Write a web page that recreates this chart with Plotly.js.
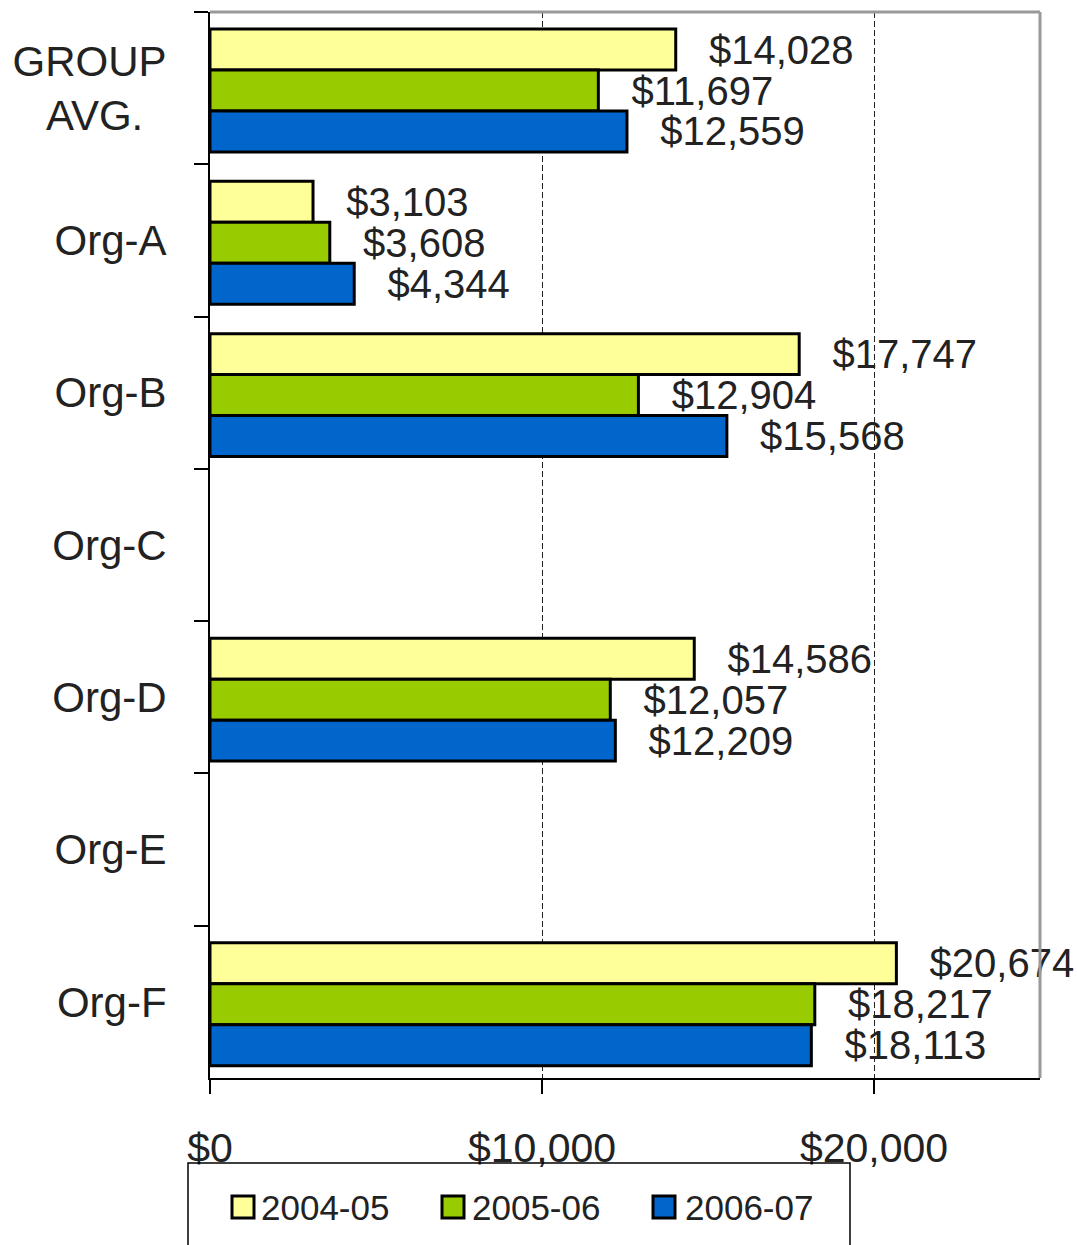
<!DOCTYPE html>
<html>
<head>
<meta charset="utf-8">
<script src="https://cdn.plot.ly/plotly-3.0.1.min.js"></script>
<style>html,body{margin:0;padding:0;background:#fff;}#chart{width:1077px;height:1245px;}</style>
</head>
<body>
<div id="chart"></div>
<script>
// ---- data ----
const categories = ["GROUP<br>AVG.\u00a0\u00a0", "Org-A", "Org-B", "Org-C", "Org-D", "Org-E", "Org-F"];
const seriesNames = ["2004-05", "2005-06", "2006-07"];
const values2004 = [14028, 3103, 17747, null, 14586, null, 20674];
const values2005 = [11697, 3608, 12904, null, 12057, null, 18217];
const values2006 = [12559, 4344, 15568, null, 12209, null, 18113];
const xTicks = [0, 10000, 20000];
const xTickLabels = ["$0", "$10,000", "$20,000"];

// ---- styles ----
const colors = ["#FFFF99", "#99CC00", "#0066CC"];
const FONT = "Liberation Sans, Arial, Helvetica, sans-serif";
const TXT = "#222";
const W = 1077, H = 1245;
const M = {l: 210, r: 37, t: 12, b: 167};
const PW = W - M.l - M.r, PH = H - M.t - M.b;
const px = x => (x - M.l) / PW;
const py = y => (H - M.b - y) / PH;

const BW = 0.269;           // bar thickness in category units
const OFF0 = -0.388;        // offset of first bar from category centre
const allValues = [values2004, values2005, values2006];
const traces = allValues.map((vals, i) => ({
  type: "bar",
  orientation: "h",
  name: seriesNames[i],
  y: categories,
  x: vals,
  width: BW,
  offset: OFF0 + i * BW,
  marker: {color: colors[i], line: {color: "#000", width: 3}},
  texttemplate: "\u00a0\u00a0\u2009%{x:$,}",
  textposition: "outside",
  textfont: {family: FONT, size: 40, color: TXT},
  cliponaxis: false,
  constraintext: "none",
  hoverinfo: "skip",
  showlegend: false
}));

// frame lines and manual legend (box, swatches, texts)
const shapes = [
  {type: "line", xref: "paper", yref: "paper", x0: 0, x1: 1, y0: 1, y1: 1, line: {color: "#999", width: 3}},
  {type: "line", xref: "paper", yref: "paper", x0: 1, x1: 1, y0: 0, y1: 1, line: {color: "#999", width: 3}},
  {type: "rect", xref: "paper", yref: "paper", x0: px(188), x1: px(850), y0: py(1163), y1: py(1262), line: {color: "#000", width: 1.5}, fillcolor: "rgba(0,0,0,0)"}
];
const swX = [232, 442, 653];
const txX = [259, 470, 683];
const annotations = [];
seriesNames.forEach((n, i) => {
  shapes.push({type: "rect", xref: "paper", yref: "paper", x0: px(swX[i]), x1: px(swX[i] + 22), y0: py(1196), y1: py(1218), fillcolor: colors[i], line: {color: "#000", width: 3}});
  annotations.push({xref: "paper", yref: "paper", x: px(txX[i]), y: py(1207), xanchor: "left", yanchor: "middle", text: n, showarrow: false, font: {family: FONT, size: 35, color: TXT}});
});

const layout = {
  width: W, height: H,
  margin: {l: M.l, r: M.r, t: M.t, b: M.b, pad: 0, autoexpand: false},
  paper_bgcolor: "#fff", plot_bgcolor: "#fff",
  barmode: "overlay",
  font: {family: FONT, color: TXT},
  xaxis: {
    range: [0, 25000], tickmode: "array", tickvals: xTicks, ticktext: xTickLabels,
    showgrid: true, gridcolor: "#222", gridwidth: 1, griddash: "6px,3px",
    zeroline: false, showline: true, linecolor: "#000", linewidth: 2,
    ticks: "outside", ticklen: 14, tickwidth: 2, tickcolor: "#000",
    ticklabelstandoff: 19,
    tickfont: {family: FONT, size: 41, color: TXT}, fixedrange: true
  },
  yaxis: {
    type: "category", range: [6.5, -0.5], tickson: "boundaries",
    showgrid: false, zeroline: false, showline: true, linecolor: "#000", linewidth: 2,
    ticks: "outside", ticklen: 14, tickwidth: 2, tickcolor: "#000",
    ticklabelstandoff: 33,
    tickfont: {family: FONT, size: 42, color: TXT}, fixedrange: true
  },
  shapes: shapes,
  annotations: annotations,
  showlegend: false
};

Plotly.newPlot("chart", traces, layout, {displayModeBar: false, staticPlot: true});
</script>
</body>
</html>
